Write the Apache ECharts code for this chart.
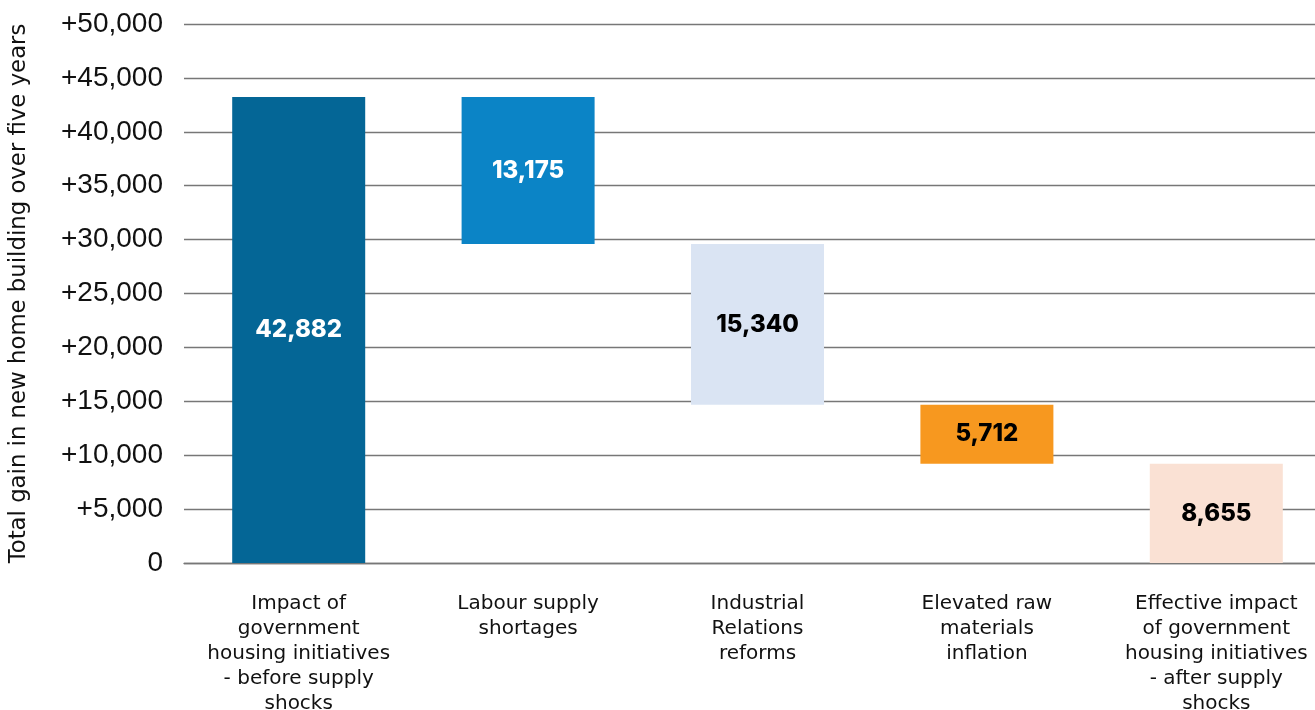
<!DOCTYPE html>
<html>
<head>
<meta charset="utf-8">
<script src="https://cdn.jsdelivr.net/npm/echarts@6/dist/echarts.min.js"></script>
<style>
  html, body { margin: 0; padding: 0; background: #fff; }
  #chart { width: 1315px; height: 710px; }
</style>
</head>
<body>
<div id="chart"></div>
<script>
const categories = [
  'Impact of\ngovernment\nhousing initiatives\n- before supply\nshocks',
  'Labour supply\nshortages',
  'Industrial\nRelations\nreforms',
  'Elevated raw\nmaterials\ninflation',
  'Effective impact\nof government\nhousing initiatives\n- after supply\nshocks',
]
// bar extents as drawn
const barTop    = [43230, 43230, 29590, 14690, 9210]
const barBottom = [0,     29590, 14690, 9210,  0]
// printed labels
const barLabels = ['42,882', '13,175', '15,340', '5,712', '8,655']
const barColors = ['#046696', '#0b84c6', '#dae4f3', '#f7981f', '#fae1d4']
const labelColors = ['#ffffff', '#ffffff', '#000000', '#000000', '#000000']

const chart = echarts.init(document.getElementById('chart'), null, { renderer: 'canvas' })

chart.setOption({
  backgroundColor: '#fff',
  animation: false,
  grid: { top: 24, bottom: 147, left: 184, right: -16, containLabel: false, outerBoundsMode: 'none' },
  xAxis: {
    type: 'category',
    data: categories,
    axisLine: { show: true, lineStyle: { color: '#777', width: 1.4 } },
    axisTick: { show: false },
    axisLabel: {
      interval: 0,
      margin: 28,
      fontFamily: 'DejaVu Sans',
      fontSize: 20,
      lineHeight: 25,
      color: '#111',
    },
  },
  yAxis: {
    type: 'value',
    min: 0,
    max: 50000,
    interval: 5000,
    name: 'Total gain in new home building over five years',
    nameLocation: 'middle',
    nameRotate: 90,
    nameGap: 153,
    nameTextStyle: { fontFamily: 'DejaVu Sans', fontSize: 22.8, color: '#111' },
    axisLine: { show: false },
    axisTick: { show: false },
    splitLine: { lineStyle: { color: '#777', width: 1.4 } },
    axisLabel: {
      margin: 21,
      fontFamily: 'Liberation Sans',
      fontSize: 28,
      color: '#111',
      formatter: v => v === 0 ? '0' : '+' + v.toLocaleString('en'),
    },
  },
  series: [
    {
      type: 'bar',
      stack: 'wf',
      silent: true,
      barWidth: 133,
      itemStyle: { color: 'transparent' },
      data: barBottom,
    },
    {
      type: 'bar',
      stack: 'wf',
      barWidth: 133,
      data: barTop.map((t, i) => ({
        value: t - barBottom[i],
        itemStyle: { color: barColors[i] },
        label: {
          show: true,
          position: 'inside',
          formatter: barLabels[i],
          fontFamily: 'Inter',
          fontWeight: 800,
          fontSize: 24,
          color: labelColors[i],
        },
      })),
    },
  ],
})
</script>
</body>
</html>
